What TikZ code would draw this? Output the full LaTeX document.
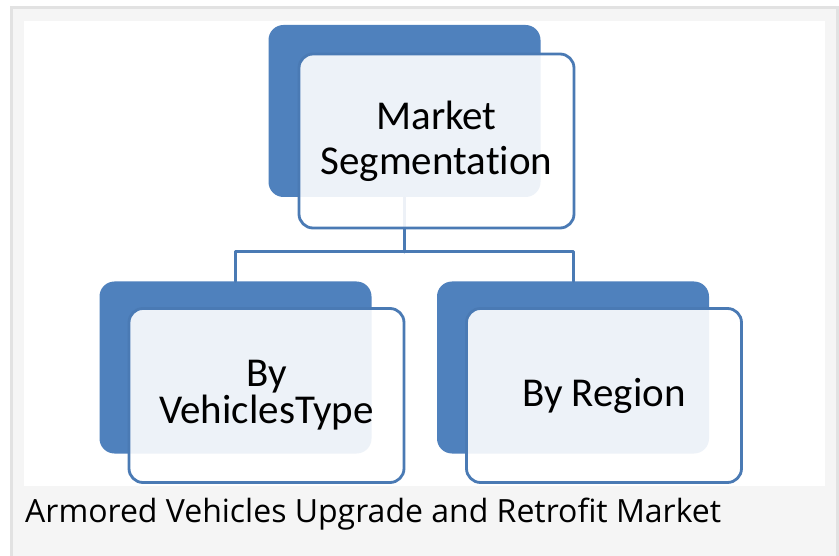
\documentclass[tikz,border=0pt]{standalone}
\usepackage{fontspec}
\setmainfont{Carlito}[RawFeature=-liga]
\newfontfamily\capfont{Open Sans}
\definecolor{segblue}{HTML}{4F81BD}
\definecolor{segline}{HTML}{4A7AB4}
\definecolor{framegray}{HTML}{E2E2E2}
\definecolor{panelgray}{HTML}{F5F5F5}
\begin{document}
\begin{tikzpicture}[x=1pt,y=-1pt,line join=round,line cap=round]
	\tikzset{backbox/.style={rectangle,rounded corners=15pt,fill=segblue,minimum width=272pt,minimum height=172pt,inner sep=0pt},
		frontbox/.style={rectangle,rounded corners=14pt,draw=segline,line width=2.8pt,fill=white,fill opacity=0.9,text opacity=1,
			minimum width=275pt,minimum height=174pt,align=center,font=\fontsize{41}{45}\selectfont},
		link/.style={draw=segline,line width=3pt}}
	\useasboundingbox (0,0) rectangle (839,556);
	% frame and panel
	\fill[framegray] (10,6) rectangle (839,556);
	\fill[panelgray] (13,9) rectangle (836,556);
	\fill[white] (24,21) rectangle (825,486);
	% back boxes
	\node[backbox] (topback) at (404.5,111) {};
	\node[backbox] (leftback) at (235.5,367.5) {};
	\node[backbox] (rightback) at (573,367.5) {};
	% connectors
	\coordinate (bus) at (topback.south |- 0,252);
	\draw[link] (topback.south) -- (bus);
	\draw[link] (leftback.north) |- (bus) -| (rightback.north);
	% front boxes
	\node[frontbox] (topfront) at (436.5,141) {Market\\Segmentation};
	\node[frontbox,font=\fontsize{41}{37}\selectfont] (leftfront) at (266.5,395.5) {By\\VehiclesType};
	\node[frontbox] (rightfront) at (604,395.5) {By Region};
	\node[anchor=base west,inner sep=0pt,font=\capfont\fontsize{32}{36}\selectfont] (caption) at (25,522) {Armored Vehicles Upgrade and Retrofit Market};
\end{tikzpicture}
\end{document}
